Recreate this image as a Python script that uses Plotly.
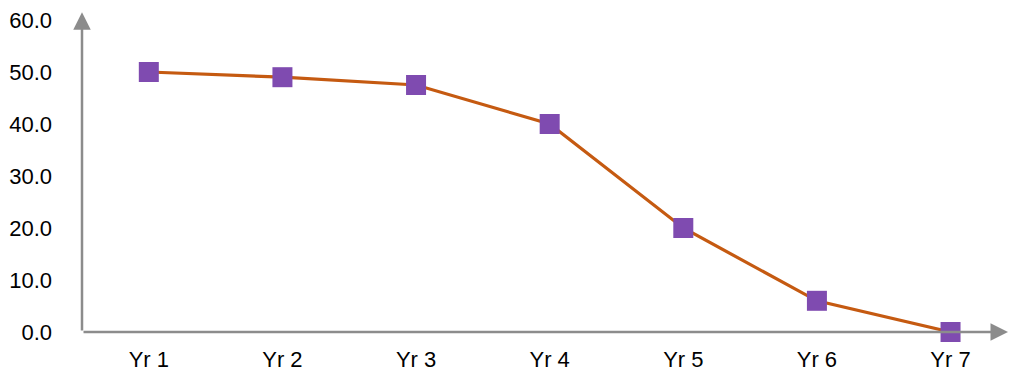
import plotly.graph_objects as go

categories = ["Yr 1", "Yr 2", "Yr 3", "Yr 4", "Yr 5", "Yr 6", "Yr 7"]
values = [50.0, 49.0, 47.5, 40.0, 20.0, 6.0, 0.0]
y_ticks = [0, 10, 20, 30, 40, 50, 60]
y_tick_labels = ["0.0", "10.0", "20.0", "30.0", "40.0", "50.0", "60.0"]

xpos = list(range(len(categories)))
AX = "#8c8c8c"

fig = go.Figure()
fig.add_trace(go.Scatter(
    x=xpos, y=values, mode="lines+markers",
    line=dict(color="#C55A11", width=3.2),
    marker=dict(symbol="square", size=20, color="#7F4BB0",
                line=dict(width=0)),
    cliponaxis=False, showlegend=False,
))

xr = [-0.5, 6.43]
fig.update_layout(
    width=1010, height=373,
    margin=dict(l=82, r=2, t=20, b=41),
    paper_bgcolor="white", plot_bgcolor="white",
    font=dict(family="Liberation Sans, Arial", size=22, color="#000"),
    xaxis=dict(range=xr, tickvals=xpos, ticktext=categories,
               showgrid=False, zeroline=False, showline=False,
               ticks="", ticklabelstandoff=12, automargin=False),
    yaxis=dict(range=[0, 60], tickvals=y_ticks, ticktext=y_tick_labels,
               showgrid=False, zeroline=False, showline=False,
               ticks="", ticklabelstandoff=29, automargin=False),
)
# axis lines with arrowheads
fig.add_annotation(x=xr[0], y=61.5, ax=xr[0], ay=0, xref="x", yref="y",
                   axref="x", ayref="y", showarrow=True, arrowhead=2,
                   arrowsize=1.4, arrowwidth=2.5, arrowcolor=AX, text="")
fig.add_annotation(x=xr[1], y=0, ax=xr[0], ay=0, xref="x", yref="y",
                   axref="x", ayref="y", showarrow=True, arrowhead=2,
                   arrowsize=1.4, arrowwidth=2.5, arrowcolor=AX, text="")
fig.write_html("out.html")
